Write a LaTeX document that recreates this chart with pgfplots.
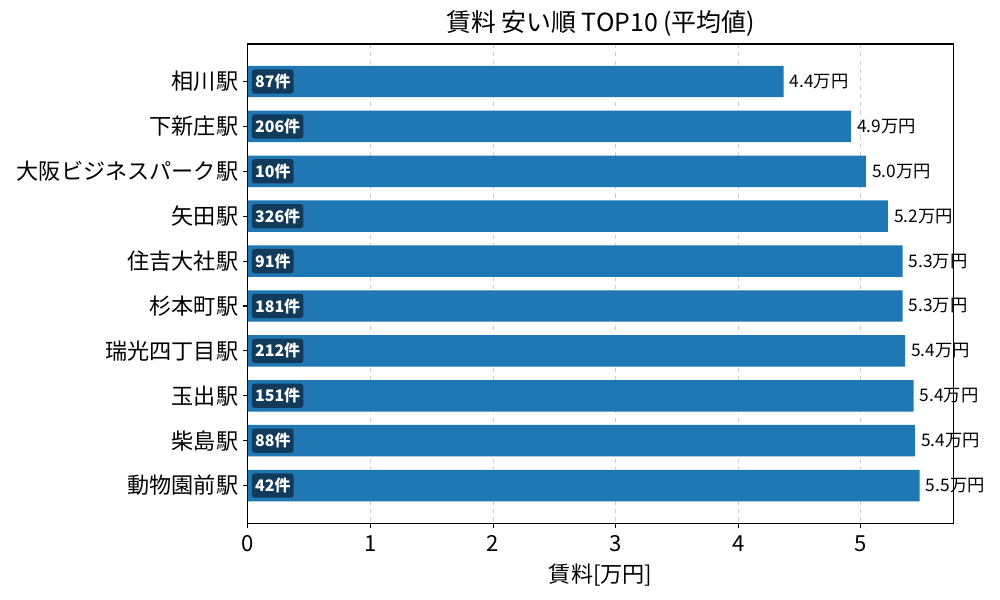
\documentclass[border=0pt]{standalone}
\usepackage{fontspec}
\setmainfont{Noto Sans CJK JP}
\usepackage{pgfplots}
\usepackage{pgfplotstable}
\pgfplotsset{compat=1.18}

\definecolor{barblue}{HTML}{1F77B4}
\definecolor{boxnavy}{HTML}{123A5A}
\definecolor{gridgray}{HTML}{CCCCCC}

% idx: row from the top, val: mean rent [10k yen], cnt: listings
\pgfplotstableread{
idx val  cnt
0   4.37 87
1   4.92 206
2   5.04 10
3   5.22 326
4   5.34 91
5   5.34 181
6   5.36 212
7   5.43 151
8   5.44 88
9   5.48 42
}\rentdata

\begin{document}
\begin{tikzpicture}
\path[use as bounding box] (-178.5bp,-55.4bp) rectangle (541.5bp,376.6bp);
\begin{axis}[
    at={(0,0)}, anchor=south west,
    scale only axis,
    width=507.9bp,
    height=344.9bp,
    clip=false,
    xmin=0, xmax=5.754,
    ymin=-0.835, ymax=9.835,
    y dir=reverse,
    xtick={0,1,2,3,4,5},
    ytick={0,1,2,3,4,5,6,7,8,9},
    yticklabels={相川駅,下新庄駅,大阪ビジネスパーク駅,矢田駅,住吉大社駅,杉本町駅,瑞光四丁目駅,玉出駅,柴島駅,動物園前駅},
    xtick pos=left, ytick pos=left,
    tick align=outside,
    major tick length=3.5bp,
    tick style={black, line width=0.8bp},
    axis line style={line width=0.8bp},
    xmajorgrids,
    grid style={dashed, gridgray, line width=0.8bp},
    /pgf/number format/assume math mode=true,
    tick label style={font=\fontsize{16}{19}\selectfont},
    xticklabel style={yshift=-2bp},
    xlabel={賃料[万円]},
    xlabel style={font=\fontsize{16}{19}\selectfont, yshift=-2bp},
    title={賃料 安い順 TOP10 (平均値)},
    title style={font=\fontsize{18}{21}\selectfont, yshift=-4bp},
]
\addplot[
    xbar, bar width=0.7, fill=barblue, draw=none,
    point meta=x,
    nodes near coords={\pgfmathprintnumber[fixed,fixed zerofill,precision=1]{\pgfplotspointmeta}万円},
    every node near coord/.append style={anchor=west, inner sep=0pt, xshift=4.3bp,
        font=\fontsize{12.5}{15}\selectfont, text=black},
] table[x=val, y=idx] {\rentdata};

\addplot[
    draw=none, mark=none,
    point meta=explicit symbolic,
    nodes near coords={\pgfplotspointmeta 件},
    every node near coord/.append style={anchor=west, xshift=2.7bp,
        fill=boxnavy, text=white, rounded corners=2bp,
        inner xsep=2.3bp, inner ysep=0pt, minimum height=17.5bp,
        font=\bfseries\fontsize{11.5}{14}\selectfont},
] table[x expr=0, y=idx, meta=cnt] {\rentdata};
\end{axis}
\end{tikzpicture}
\end{document}
